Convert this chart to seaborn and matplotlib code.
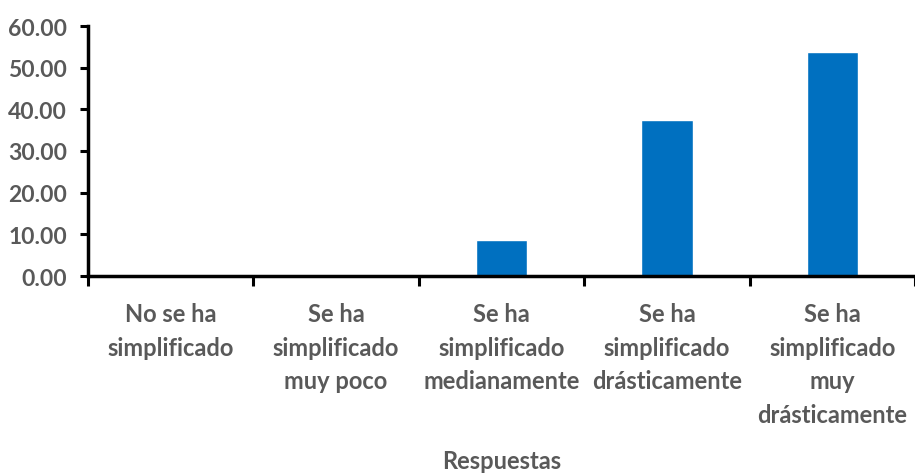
import matplotlib
matplotlib.use("Agg")
import matplotlib.pyplot as plt
import seaborn as sns
import numpy as np

categorias = [
    "No se ha\nsimplificado",
    "Se ha\nsimplificado\nmuy poco",
    "Se ha\nsimplificado\nmedianamente",
    "Se ha\nsimplificado\ndrásticamente",
    "Se ha\nsimplificado\nmuy\ndrásticamente",
]
porcentajes = [0.0, 0.0, 8.64, 37.44, 53.76]
y_ticks = [0, 10, 20, 30, 40, 50, 60]

sns.set_style("white")
plt.rcParams["font.family"] = ["Lato", "DejaVu Sans"]

gris = "#595959"
fig = plt.figure(figsize=(9.15, 4.77), dpi=100)
ax = fig.add_axes([88 / 915, 1 - 277 / 477, 1 - 88 / 915, 250 / 477])

sns.barplot(x=categorias, y=porcentajes, color="#0070C0", width=0.31,
            saturation=1, ax=ax)

ax.set_ylim(0, 60)
ax.set_xlim(-0.5, 4.5 - 8 / 167)
ax.set_yticks(y_ticks)
ax.set_yticklabels([f"{v:.2f}" for v in y_ticks], fontsize=16.5,
                   fontweight="bold", color=gris)
ax.set_xticks(range(len(categorias)))
ax.set_xticklabels(categorias, fontsize=17, fontweight="bold", color=gris,
                   linespacing=1.55, va="top")
ax.set_xticks(np.arange(-0.5, len(categorias), 1), minor=True)
ax.tick_params(axis="x", which="major", bottom=True, length=0, pad=19)
ax.tick_params(axis="x", which="minor", bottom=True, length=7, width=2.2,
               direction="out", color="black")
ax.tick_params(axis="y", left=True, length=6, width=2.2, direction="out",
               color="black", pad=9)

for side in ["top", "right"]:
    ax.spines[side].set_visible(False)
for side in ["left", "bottom"]:
    ax.spines[side].set_linewidth(2.5)
    ax.spines[side].set_color("black")

ax.set_xlabel("Respuestas", fontsize=17, fontweight="bold", color=gris,
              labelpad=17)
ax.set_ylabel("")

fig.savefig("out.png", dpi=100)
